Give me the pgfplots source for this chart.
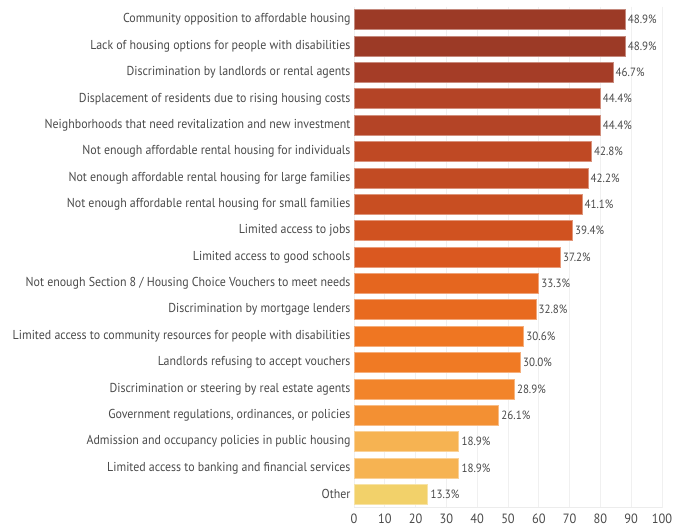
\documentclass[border=0pt]{standalone}
\usepackage{pgfplots}
\pgfplotsset{compat=1.18}
\usepackage{fontspec}
\setmainfont{PT Sans}[FakeStretch=0.92]
\definecolor{txt}{HTML}{4A4A4A}
\definecolor{c1}{HTML}{9C3A26}
\definecolor{c2}{HTML}{9C3A26}
\definecolor{c3}{HTML}{A53D27}
\definecolor{c4}{HTML}{B44426}
\definecolor{c5}{HTML}{B44426}
\definecolor{c6}{HTML}{BF4924}
\definecolor{c7}{HTML}{C24B23}
\definecolor{c8}{HTML}{C84E22}
\definecolor{c9}{HTML}{D05220}
\definecolor{c10}{HTML}{DA5820}
\definecolor{c11}{HTML}{E5661F}
\definecolor{c12}{HTML}{E86A1F}
\definecolor{c13}{HTML}{EF7622}
\definecolor{c14}{HTML}{F07A24}
\definecolor{c15}{HTML}{F2842A}
\definecolor{c16}{HTML}{F39033}
\definecolor{c17}{HTML}{F6B352}
\definecolor{c18}{HTML}{F6B352}
\definecolor{c19}{HTML}{F2D16A}
\begin{document}
\begin{tikzpicture}[font=\fontsize{13}{15}\selectfont]
\begin{axis}[
  scale only axis, width=308bp, height=501bp,
  xmin=0, xmax=55.5556,
  ymin=-0.5, ymax=18.5, y dir=reverse,
  xtick={0,5.5556,11.1111,16.6667,22.2222,27.7778,33.3333,38.8889,44.4444,50,55.5556},
  xticklabels={0,10,20,30,40,50,60,70,80,90,100},
  ytick={0,...,18},
  yticklabels={
    Community opposition to affordable housing,
    Lack of housing options for people with disabilities,
    Discrimination by landlords or rental agents,
    Displacement of residents due to rising housing costs,
    Neighborhoods that need revitalization and new investment,
    Not enough affordable rental housing for individuals,
    Not enough affordable rental housing for large families,
    Not enough affordable rental housing for small families,
    Limited access to jobs,
    Limited access to good schools,
    Not enough Section 8 / Housing Choice Vouchers to meet needs,
    Discrimination by mortgage lenders,
    Limited access to community resources for people with disabilities,
    Landlords refusing to accept vouchers,
    Discrimination or steering by real estate agents,
    {Government regulations, ordinances, or policies},
    Admission and occupancy policies in public housing,
    Limited access to banking and financial services,
    Other},
  /pgf/number format/assume math mode=true,
  tick label style={text=txt},
  yticklabel style={xshift=0bp},
  xticklabel style={yshift=-3bp, font=\fontsize{13.5}{15}\selectfont},
  major tick length=0pt,
  axis line style={draw=none},
  xmajorgrids, grid style={draw=gray!12, line width=0.6pt},
  xbar, bar width=20bp, bar shift=0pt,
  nodes near coords={\pgfmathprintnumber[fixed,fixed zerofill,precision=1]{\pgfplotspointmeta}\%},
  nodes near coords style={text=txt, font=\fontsize{12}{14}\selectfont, inner sep=2.5pt},
  every axis plot/.append style={line width=0.6pt},
]
\addplot[fill=c1, draw=c1!60!white] coordinates {(48.9,0)};
\addplot[fill=c2, draw=c2!60!white] coordinates {(48.9,1)};
\addplot[fill=c3, draw=c3!60!white] coordinates {(46.7,2)};
\addplot[fill=c4, draw=c4!60!white] coordinates {(44.4,3)};
\addplot[fill=c5, draw=c5!60!white] coordinates {(44.4,4)};
\addplot[fill=c6, draw=c6!60!white] coordinates {(42.8,5)};
\addplot[fill=c7, draw=c7!60!white] coordinates {(42.2,6)};
\addplot[fill=c8, draw=c8!60!white] coordinates {(41.1,7)};
\addplot[fill=c9, draw=c9!60!white] coordinates {(39.4,8)};
\addplot[fill=c10, draw=c10!60!white] coordinates {(37.2,9)};
\addplot[fill=c11, draw=c11!60!white] coordinates {(33.3,10)};
\addplot[fill=c12, draw=c12!60!white] coordinates {(32.8,11)};
\addplot[fill=c13, draw=c13!60!white] coordinates {(30.6,12)};
\addplot[fill=c14, draw=c14!60!white] coordinates {(30.0,13)};
\addplot[fill=c15, draw=c15!60!white] coordinates {(28.9,14)};
\addplot[fill=c16, draw=c16!60!white] coordinates {(26.1,15)};
\addplot[fill=c17, draw=c17!60!white] coordinates {(18.9,16)};
\addplot[fill=c18, draw=c18!60!white] coordinates {(18.9,17)};
\addplot[fill=c19, draw=c19!60!white] coordinates {(13.3,18)};
\draw[gray!15, line width=0.6pt] (axis cs:0,18.5) -- (axis cs:57,18.5);
\end{axis}
\path ([shift={(-354bp,-21.5bp)}]current axis.south west) rectangle ([shift={(335bp,507.5bp)}]current axis.south west);
\end{tikzpicture}
\end{document}
